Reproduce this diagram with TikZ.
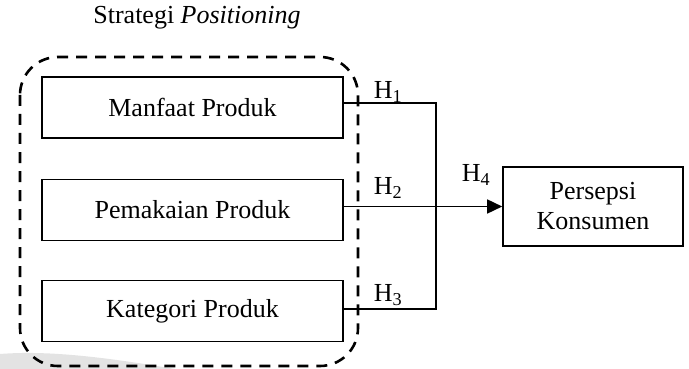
\documentclass[tikz,border=0pt]{standalone}
\usepackage{fontspec}
\setmainfont{Liberation Serif}
\usetikzlibrary{arrows.meta}
\tikzset{
  varbox/.style={draw, line width=1.6pt, minimum width=301pt, minimum height=61pt, inner sep=0pt, font=\fontsize{26}{30}\selectfont},
  hlabel/.style={font=\fontsize{26}{30}\selectfont, inner sep=0pt},
  conn/.style={line width=1.6pt},
  grp/.style={dashed, line width=2.6pt, dash pattern=on 11pt off 8pt, rounded corners=38pt}
}
\begin{document}
\begin{tikzpicture}[x=1pt,y=-1pt]
\useasboundingbox (0,0) rectangle (689,369);
\fill[gray!22] (0,354) .. controls (50,350) and (110,358) .. (175,369) -- (0,369) -- cycle;
\node[hlabel] (title) at (197,18) {Strategi \textit{Positioning}};
\draw[grp] (20,57) rectangle (358,366);
\node[varbox] (b1) at (192.5,107.5) {Manfaat Produk};
\node[varbox] (b2) at (192.5,210) {Pemakaian Produk};
\node[varbox] (b3) at (192.5,311) {Kategori Produk};
\node[draw, line width=1.6pt, minimum width=180pt, minimum height=79pt, inner sep=0pt, align=center, font=\fontsize{26}{30}\selectfont] (p) at (593,206.5) {Persepsi\\Konsumen};
\coordinate (j1) at (436,103);
\coordinate (j3) at (436,309);
\draw[conn] ([yshift=4.5pt]b1.east) -- (j1) -- (j3) -- ([yshift=2pt]b3.east);
\draw[conn, -{Triangle[length=15pt,width=14pt]}] (b2.east |- p.west) -- (p.west);
\node[hlabel] (h1) at (388,92) {H\textsubscript{1}};
\node[hlabel] (h2) at (388,188) {H\textsubscript{2}};
\node[hlabel] (h3) at (388,295) {H\textsubscript{3}};
\node[hlabel] (h4) at (476,175) {H\textsubscript{4}};
\end{tikzpicture}
\end{document}
